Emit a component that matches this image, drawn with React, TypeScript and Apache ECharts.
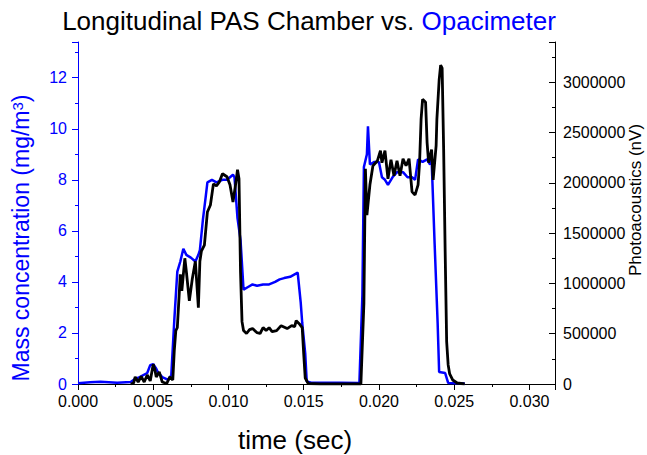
import React, { useEffect, useRef } from "react";
import * as echarts from "echarts";

// Opacimeter (blue, left axis, mg/m3)
const opacTime = [
  0, 0.0008, 0.0015, 0.0026, 0.0035, 0.0038, 0.0041, 0.0046, 0.0048, 0.005,
  0.0052, 0.0053, 0.0056, 0.006, 0.0062, 0.0064, 0.0066, 0.0068, 0.007, 0.0072,
  0.0075, 0.0078, 0.008, 0.0081, 0.0083, 0.0085, 0.0086, 0.0089, 0.0092, 0.0096,
  0.0099, 0.0103, 0.0104, 0.0106, 0.0108, 0.011, 0.0113, 0.0116, 0.0119, 0.0123,
  0.0127, 0.0131, 0.0134, 0.0137, 0.0141, 0.0146, 0.0148, 0.0149, 0.0151, 0.0152,
  0.0155, 0.0174, 0.0187, 0.0189, 0.019, 0.0192, 0.01927, 0.0194, 0.0197, 0.02,
  0.0202, 0.0204, 0.0206, 0.0209, 0.0212, 0.0216, 0.0219, 0.0222, 0.0224, 0.0226,
  0.0229, 0.0232, 0.0234, 0.0235, 0.0237, 0.0239, 0.024, 0.0244, 0.0246, 0.0257,
];
const opacMass = [
  0.03, 0.07, 0.09, 0.05, 0.08, 0.2, 0.27, 0.43, 0.74, 0.78,
  0.6, 0.47, 0.27, 0.16, 0.35, 2.5, 4.4, 4.8, 5.3, 5.06,
  4.95, 4.8, 5.06, 5.25, 6.43, 7.4, 7.9, 8.0, 7.9, 8.0,
  8.0, 8.2, 8.1, 6.5, 5.65, 3.7, 3.8, 3.9, 3.85, 3.9,
  3.9, 4.0, 4.1, 4.15, 4.2, 4.36, 3.2, 2.4, 1.2, 0.1,
  0.05, 0.05, 0.04, 3.5, 8.5, 9.0, 10.1, 8.6, 8.7, 8.7,
  8.1, 8.0, 7.8, 8.1, 8.3, 8.3, 8.1, 8.1, 8.0, 8.8,
  8.7, 8.8, 8.6, 8.8, 5.5, 2.4, 0.47, 0.43, 0.04, 0.02,
];

// Photoacoustics (black, right axis, nV)
const pasTime = [
  0.0035, 0.0037, 0.0038, 0.004, 0.0042, 0.0044, 0.0046, 0.0048, 0.005, 0.0051,
  0.0052, 0.0054, 0.0056, 0.0059, 0.0061, 0.0063, 0.0064, 0.0065, 0.0066, 0.0068,
  0.0069, 0.0071, 0.0072, 0.0074, 0.0076, 0.0078, 0.008, 0.0081, 0.0082, 0.0084,
  0.0086, 0.0088, 0.009, 0.0092, 0.0094, 0.0096, 0.0099, 0.0101, 0.0103, 0.0105,
  0.0106, 0.0107, 0.0108, 0.0109, 0.011, 0.0112, 0.0114, 0.0116, 0.0119, 0.0121,
  0.0123, 0.0125, 0.0127, 0.0129, 0.0132, 0.0135, 0.0139, 0.0142, 0.0144, 0.0145,
  0.0147, 0.0149, 0.015, 0.0151, 0.0153, 0.0161, 0.0188, 0.019, 0.0191, 0.0192,
  0.0194, 0.0196, 0.0199, 0.0201, 0.0202, 0.0204, 0.0206, 0.0208, 0.021, 0.0212,
  0.0214, 0.0216, 0.0218, 0.022, 0.0222, 0.0224, 0.0226, 0.0227, 0.0228, 0.0229,
  0.0231, 0.0232, 0.0233, 0.0235, 0.0236, 0.0238, 0.02385, 0.024, 0.0241, 0.0242,
  0.0243, 0.0244, 0.0245, 0.0246, 0.0247, 0.0249, 0.0252, 0.0257,
];
const pasSignal = [
  0, 10000, 70000, 20000, 75000, 20000, 90000, 30000, 197000, 150000,
  70000, 120000, 20000, 5000, 70000, 40000, 335000, 530000, 560000, 1090000,
  925000, 1250000, 1120000, 827000, 1050000, 1220000, 758000, 1220000, 1320000, 1380000,
  1710000, 1780000, 1990000, 1970000, 2010000, 2090000, 2060000, 1980000, 1810000, 2010000,
  2130000, 2040000, 1120000, 620000, 531000, 502000, 540000, 551000, 510000, 502000,
  561000, 531000, 560000, 520000, 531000, 580000, 551000, 580000, 570000, 630000,
  600000, 560000, 300000, 60000, 5000, 0, 0, 800000, 2140000, 1680000,
  1980000, 2170000, 2220000, 2320000, 2200000, 2320000, 2040000, 2230000, 2070000, 2220000,
  2070000, 2240000, 2170000, 2240000, 1910000, 1880000, 1980000, 2200000, 2630000, 2830000,
  2800000, 2400000, 2200000, 2330000, 2030000, 2370000, 2630000, 3020000, 3170000, 3140000,
  2330000, 1320000, 420000, 190000, 100000, 40000, 10000, 0,
];

const xMin = 0;
const xMax = 0.0317;
const xStep = 0.005;
const leftMax = 13.4;
const leftStep = 2;
const rightMax = 3400000;
const rightStep = 500000;

const FONT = "'Liberation Sans', Arial, Helvetica, sans-serif";
const BLUE = "#0000ff";

export default function App() {
  const ref = useRef<HTMLDivElement | null>(null);

  useEffect(() => {
    if (!ref.current) return;
    const chart = echarts.init(ref.current, undefined, { renderer: "svg" });
    const blueData = opacTime.map((t, i) => [t, opacMass[i]]);
    const blackData = pasTime.map((t, i) => [t, pasSignal[i]]);
    const isMult = (v: number, step: number) =>
      Math.abs(v / step - Math.round(v / step)) < 1e-6;

    chart.setOption({
      animation: false,
      grid: { left: 78, right: 92, top: 42, bottom: 71, containLabel: false },
      xAxis: {
        type: "value",
        min: xMin,
        max: xMax,
        interval: xStep,
        axisLine: { show: true, onZero: false, lineStyle: { color: "#000", width: 1 } },
        axisTick: { show: true, length: 6, lineStyle: { color: "#000", width: 1 } },
        minorTick: { show: true, splitNumber: 2, length: 3, lineStyle: { color: "#000", width: 1 } },
        splitLine: { show: false },
        axisLabel: {
          color: "#000",
          fontSize: 16,
          fontFamily: FONT,
          margin: 9,
          formatter: (v: number) => (isMult(v, xStep) ? v.toFixed(3) : ""),
        },
      },
      yAxis: [
        {
          type: "value",
          position: "left",
          min: 0,
          max: leftMax,
          interval: leftStep,
          axisLine: { show: true, lineStyle: { color: BLUE, width: 1 } },
          axisTick: { show: true, length: 6, lineStyle: { color: BLUE, width: 1 } },
          minorTick: { show: true, splitNumber: 2, length: 3, lineStyle: { color: BLUE, width: 1 } },
          splitLine: { show: false },
          axisLabel: {
            color: BLUE,
            fontSize: 16,
            fontFamily: FONT,
            margin: 11,
            formatter: (v: number) => (isMult(v, leftStep) ? String(Math.round(v)) : ""),
          },
        },
        {
          type: "value",
          position: "right",
          min: 0,
          max: rightMax,
          interval: rightStep,
          axisLine: { show: true, lineStyle: { color: "#000", width: 1 } },
          axisTick: { show: true, inside: true, length: 6, lineStyle: { color: "#000", width: 1 } },
          minorTick: { show: true, splitNumber: 2, length: 3, lineStyle: { color: "#000", width: 1 } },
          splitLine: { show: false },
          axisLabel: {
            color: "#000",
            fontSize: 16,
            fontFamily: FONT,
            margin: 8,
            formatter: (v: number) => (isMult(v, rightStep) ? String(Math.round(v)) : ""),
          },
        },
      ],
      series: [
        {
          name: "Opacimeter",
          type: "line",
          yAxisIndex: 0,
          data: blueData,
          showSymbol: false,
          symbol: "none",
          lineStyle: { color: BLUE, width: 2.5 },
          itemStyle: { color: BLUE },
          z: 2,
        },
        {
          name: "Photoacoustics",
          type: "line",
          yAxisIndex: 1,
          data: blackData,
          showSymbol: false,
          symbol: "none",
          lineStyle: { color: "#000", width: 2.8 },
          itemStyle: { color: "#000" },
          z: 3,
        },
      ],
      graphic: [
        {
          type: "text",
          x: 309,
          y: 21,
          style: {
            text: "{k|Longitudinal PAS Chamber vs. }{b|Opacimeter}",
            align: "center",
            verticalAlign: "middle",
            rich: {
              k: { fontSize: 26, fontFamily: FONT, fill: "#000" },
              b: { fontSize: 26, fontFamily: FONT, fill: BLUE },
            },
          },
        },
        {
          type: "text",
          x: 295,
          y: 440,
          style: {
            text: "time (sec)",
            align: "center",
            verticalAlign: "middle",
            fontSize: 26,
            fontFamily: FONT,
            fill: "#000",
          },
        },
        {
          type: "text",
          x: 21,
          y: 238,
          rotation: Math.PI / 2,
          style: {
            text: "{a|Mass concentration (mg/m}{s|3}{a|)}",
            align: "center",
            verticalAlign: "middle",
            rich: {
              a: { fontSize: 23, fontFamily: FONT, fill: BLUE },
              s: { fontSize: 15, fontFamily: FONT, fill: BLUE, verticalAlign: "top" },
            },
          },
        },
        {
          type: "text",
          x: 635,
          y: 200,
          rotation: Math.PI / 2,
          style: {
            text: "Photoacoustics (nV)",
            align: "center",
            verticalAlign: "middle",
            fontSize: 17,
            fontFamily: FONT,
            fill: "#000",
          },
        },
      ],
    });

    return () => {
      chart.dispose();
    };
  }, []);

  return (
    <div
      ref={ref}
      style={{ position: "fixed", left: 0, top: 0, width: 647, height: 455, background: "#fff" }}
    />
  );
}
